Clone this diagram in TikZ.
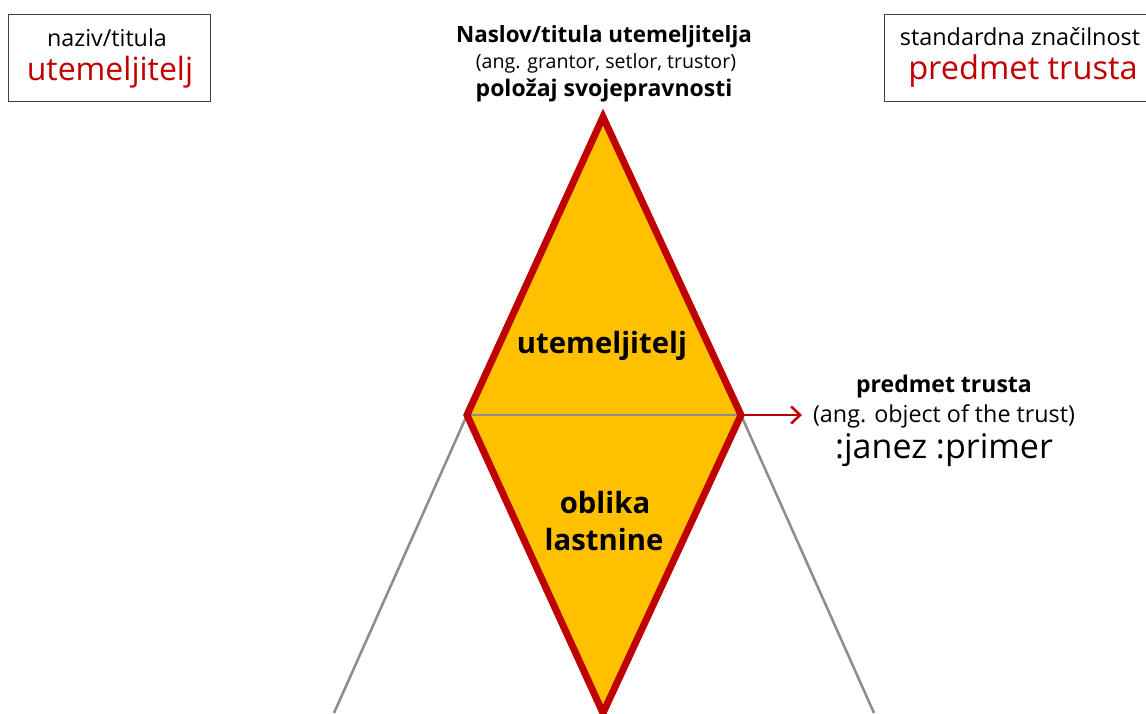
\documentclass[tikz,border=0pt]{standalone}
\usepackage{fontspec}
\setmainfont{Open Sans}
\usetikzlibrary{arrows.meta}
\definecolor{tred}{HTML}{C00000}
\definecolor{torange}{HTML}{FFC000}
\definecolor{tgray}{HTML}{8C8C8C}
\definecolor{tframe}{HTML}{404040}
\tikzset{
  fs/.style={font=\fontsize{#1}{#1}\selectfont},
  fsb/.style={font=\fontsize{#1}{#1}\selectfont\bfseries},
  txt/.style={inner sep=0pt, anchor=base},
  framebox/.style={draw=tframe, line width=1pt},
  guide/.style={draw=tgray, line width=2.5pt},
  redline/.style={draw=tred, line width=7pt, line join=miter},
}
\begin{document}
\begin{tikzpicture}[x=1pt,y=-1pt]
\useasboundingbox (0,0) rectangle (1146,713);
% frames
\draw[framebox] (8,14) rectangle (210,101);
\draw[framebox] (884,14) rectangle (1160,101);
\node[txt,fs=23.3] (lt1) at (107,46) {naziv/titula};
\node[txt,fs=32,text=tred] (lt2) at (110,80) {utemeljitelj};
\node[txt,fs=23.4] (rt1) at (1020,45) {standardna značilnost};
\node[txt,fs=32.6,text=tred] (rt2) at (1023,79) {predmet trusta};
% top title
\node[txt,fsb=22.4] (t1) at (604,42) {Naslov/titula utemeljitelja};
\node[txt,fs=19.6] (t2) at (606,68) {(ang. grantor, setlor, trustor)};
\node[txt,fsb=23] (t3) at (604,96) {položaj svojepravnosti};
% diamond coordinates
\coordinate (T) at (603,117);
\coordinate (L) at (467,415);
\coordinate (R) at (741,415);
\coordinate (B) at (603,713);
\coordinate (GL) at (334,713);
\coordinate (GR) at (874,713);
% guides
\draw[guide] (L) -- (GL);
\draw[guide] (R) -- (GR);
\fill[torange] (T) -- (L) -- (B) -- (R) -- cycle;
\draw[guide] (L) -- (R);
\draw[redline] (T) -- (L) -- (B) -- (R) -- cycle;
% labels in diamond
\node[txt,fsb=29.3] (d1) at (602,353) {utemeljitelj};
\node[txt,fsb=29.3] (d2) at (605,513) {oblika};
\node[txt,fsb=29.3] (d3) at (604,550) {lastnine};
% right side
\coordinate (A) at (802,415);
\draw[tred, line width=2.5pt, -{Straight Barb[length=9pt,width=17pt,line width=2.5pt]}] (R) -- (A);
\node[txt,fsb=23] (p1) at (944,392) {predmet trusta};
\node[txt,fs=23.3] (p2) at (944,422) {(ang. object of the trust)};
\node[txt,fs=34] (p3) at (944,458) {:janez :primer};
\end{tikzpicture}
\end{document}
